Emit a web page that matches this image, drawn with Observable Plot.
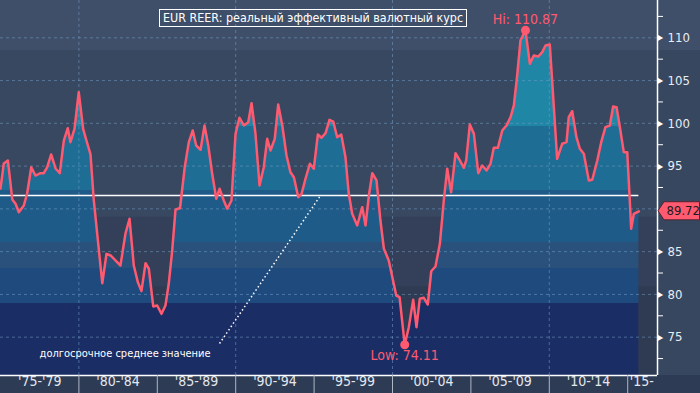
<!DOCTYPE html>
<html><head><meta charset="utf-8">
<script src="https://cdn.jsdelivr.net/npm/d3@7"></script>
<script src="https://cdn.jsdelivr.net/npm/@observablehq/plot@0.6"></script>
<style>
html,body{margin:0;padding:0;background:#384760;}
#wrap{position:relative;width:700px;height:393px;overflow:hidden;
  background:linear-gradient(to bottom,#404f69 0px,#404f69 50px,#384760 50px,#384760 375px,#2e3b54 375px,#2e3b54 393px);}
#wrap svg{position:absolute;left:0;top:0;background:transparent;}
#title{position:absolute;left:159px;top:9px;height:16px;line-height:16px;border:1px solid #fff;color:#fff;
  font-family:"DejaVu Sans Condensed","Liberation Sans Narrow","DejaVu Sans",sans-serif;font-stretch:condensed;font-size:12.4px;padding:0 3px;white-space:nowrap;}
</style></head><body>
<div id="wrap"></div>
<script>
// ---- data ----
const years = [1975.00,1975.21,1975.47,1975.75,1975.96,1976.17,1976.49,1976.70,1976.96,1977.23,1977.55,1977.76,1977.98,1978.23,1978.51,1978.78,1979.04,1979.29,1979.46,1979.72,1979.99,1980.27,1980.48,1980.74,1980.95,1981.49,1981.76,1982.02,1982.33,1982.65,1982.97,1983.23,1983.50,1983.76,1983.99,1984.25,1984.46,1984.74,1984.99,1985.27,1985.52,1985.73,1985.95,1986.16,1986.45,1986.75,1987.01,1987.26,1987.48,1987.76,1988.01,1988.25,1988.50,1988.76,1988.97,1989.24,1989.46,1989.73,1989.99,1990.24,1990.52,1990.80,1991.01,1991.26,1991.52,1991.79,1992.01,1992.22,1992.49,1992.71,1992.97,1993.24,1993.49,1993.71,1993.99,1994.20,1994.45,1994.73,1994.98,1995.24,1995.47,1995.73,1995.98,1996.22,1996.47,1996.73,1997.00,1997.21,1997.43,1997.75,1998.07,1998.28,1998.49,1998.71,1998.98,1999.23,1999.45,1999.76,2000.24,2000.45,2000.78,2001.04,2001.32,2001.53,2001.74,2002.00,2002.25,2002.47,2002.74,2003.02,2003.27,2003.49,2003.74,2004.02,2004.29,2004.55,2004.70,2004.93,2005.19,2005.47,2005.72,2006.00,2006.25,2006.46,2006.72,2007.00,2007.27,2007.53,2007.74,2007.95,2008.16,2008.48,2008.76,2009.01,2009.29,2009.55,2009.76,2010.03,2010.18,2010.33,2010.50,2010.82,2011.10,2011.24,2011.46,2011.73,2011.95,2012.20,2012.52,2012.74,2013.06,2013.31,2013.58,2013.86,2014.07,2014.29,2014.50,2014.75,2014.97,2015.13,2015.22,2015.39,2015.71];
const values = [92.38,95.31,95.66,91.10,90.60,89.61,90.40,91.80,94.87,93.90,94.17,94.17,94.87,96.36,94.72,94.17,97.99,99.43,97.80,99.36,103.64,99.36,97.99,96.36,90.98,81.31,84.75,84.55,83.97,83.38,87.12,88.84,83.38,81.43,80.38,83.65,83.00,78.59,78.70,77.73,78.70,81.24,85.13,89.90,90.10,94.87,97.80,99.16,97.41,96.91,99.75,97.41,94.10,91.18,92.35,90.98,90.01,90.98,98.78,100.65,99.75,100.13,102.35,98.78,92.73,94.87,98.19,96.82,98.19,102.20,99.75,96.24,94.29,93.70,91.37,91.76,93.52,95.27,94.69,98.70,98.31,98.85,100.41,100.21,98.38,98.70,96.04,91.76,89.42,88.06,90.20,88.06,91.50,94.17,93.32,88.64,85.33,83.97,79.87,79.67,74.11,76.17,79.37,76.17,79.49,79.60,78.82,82.71,83.26,85.92,90.98,94.69,91.95,96.51,95.66,94.80,95.66,99.86,98.78,94.17,95.07,94.49,95.27,97.14,97.14,99.16,99.75,100.72,102.09,105.59,109.68,110.87,106.96,107.93,107.81,108.32,109.10,109.22,105.01,100.72,95.85,97.61,97.80,100.72,101.42,98.38,97.02,96.44,93.32,93.40,95.66,97.80,99.55,99.75,101.97,101.89,99.55,96.63,96.63,91.06,87.67,89.42,89.72];
const longTermAverage = 91.56;
const titleText = "EUR REER: реальный эффективный валютный курс";
const avgLabel = "долгосрочное среднее значение";
const periodStarts = [1975,1980,1985,1990,1995,2000,2005,2010];
const periodLabels = ["'75-'79","'80-'84","'85-'89","'90-'94","'95-'99","'00-'04","'05-'09","'10-'14"];
const lastPeriodStart = 2015, lastPeriodLabel = "'15-";
const periodEdges = [1980,1985,1990,1995,2000,2005,2010,2015];
const decadeGrid = [1980,1990,2000,2010];
const majorTicks = [75,80,85,90,95,100,105,110];
const minorTicks = [72.5,77.5,82.5,87.5,92.5,97.5,102.5,107.5,112.5];
const areaBandEdges = [99.6,92.2,86.1,83.0,78.9];       // value boundaries of the area shading
const backBandEdges = [108.5,89.0,80.9];                // value boundaries of the background shading
const annotationFrom = {t:1988.97, v:74.26}, annotationTo = {t:1995.41, v:91.56};
const annotationTextPos = {t:1977.49, v:73.1};

// ---- styles ----
const X0 = 1975, X1 = 2016.9, Y0 = 70.52, Y1 = 114.36;
const areaColors = ["#1f86a6","#1e6d95","#1f5b89","#29517b","#1f4a7e","#1b2d65"];
const backColors = ["#404f69","#394861","#343f59","#2f3a53"];
const pink = "#ff5a70";
const condensed = '"DejaVu Sans Condensed","Liberation Sans Narrow","DejaVu Sans",sans-serif';

const data = years.map((t,i)=>({t, v: values[i]}));
const hi = d3.greatest(data, d=>d.v), lo = d3.least(data, d=>d.v);
const last = data[data.length-1];
// the last-value tag hides the tick label it covers
const labelledTicks = majorTicks.filter(v => Math.abs(v - last.v) > 2);

const aEdges = [Y1, ...areaBandEdges, Y0];
const areaBands = areaColors.map((c,i)=>({hi:aEdges[i], lo:aEdges[i+1], color:c}));
const bEdges = [Y1, ...backBandEdges, Y0];
const backBands = backColors.map((c,i)=>({hi:bEdges[i], lo:bEdges[i+1], color:c}));

function yScaleOf(scales, dims) {
  return (scales && scales.y) ? scales.y : d3.scaleLinear([Y0,Y1],[dims.height - dims.marginBottom, dims.marginTop]);
}

const gradMark = (index, scales, vals, dims) => {
  const H = dims.height;
  const y = yScaleOf(scales, dims);
  const defs = d3.create("svg:defs");
  const g = defs.append("linearGradient").attr("id","areaGrad").attr("gradientUnits","userSpaceOnUse")
    .attr("x1",0).attr("y1",0).attr("x2",0).attr("y2",H);
  areaBands.forEach(b=>{
    g.append("stop").attr("offset", Math.max(0,Math.min(1,y(b.hi)/H))).attr("stop-color", b.color);
    g.append("stop").attr("offset", Math.max(0,Math.min(1,y(b.lo)/H))).attr("stop-color", b.color);
  });
  return defs.node();
};

// pointed tag behind the last value, placed with the y scale
const tagMark = (index, scales, vals, dims) => {
  const y = yScaleOf(scales, dims);
  const cy = y(last.v), xr = dims.width - dims.marginRight;
  const path = d3.path();
  path.moveTo(xr + 1, cy); path.lineTo(xr + 7, cy - 9); path.lineTo(dims.width - 0.5, cy - 9);
  path.lineTo(dims.width - 0.5, cy + 9); path.lineTo(xr + 7, cy + 9); path.closePath();
  const g = d3.create("svg:g");
  g.append("path").attr("d", path.toString()).attr("fill", pink).attr("stroke", "#4a1822").attr("stroke-width", 0.8);
  return g.node();
};

const chart = Plot.plot({
  width: 700, height: 393,
  marginLeft: 0, marginRight: 43, marginTop: 0, marginBottom: 18,
  x: {domain:[X0,X1], axis:null},
  y: {domain:[Y0,Y1], label:null},
  style: {background:"transparent", fontFamily: condensed, fontSize:"13px", overflow:"visible"},
  marks: [
    ...backBands.map(b => Plot.rect([b], {y1:"lo", y2:"hi", fill:b.color})),
    gradMark,
    Plot.areaY(data, {x:"t", y1:Y0, y2:"v", fill:"url(#areaGrad)"}),
    Plot.ruleY(majorTicks, {stroke:"#6f9cc4", strokeOpacity:0.55, strokeDasharray:"3,3"}),
    Plot.ruleX(decadeGrid, {stroke:"#6f9cc4", strokeOpacity:0.55, strokeDasharray:"3,3"}),
    Plot.ruleY([longTermAverage], {x1:years[0], x2:years[years.length-1], stroke:"white", strokeWidth:1.5}),
    Plot.link([{a:annotationFrom, b:annotationTo}], {x1:d=>d.a.t, y1:d=>d.a.v, x2:d=>d.b.t, y2:d=>d.b.v, stroke:"white", strokeWidth:1.5, strokeDasharray:"1.5,2.5"}),
    Plot.text([avgLabel], {x:annotationTextPos.t, y:annotationTextPos.v, text:d=>d, textAnchor:"start", fill:"white", fontSize:11}),
    Plot.line(data, {x:"t", y:"v", stroke:pink, strokeWidth:2.5, strokeLinejoin:"round"}),
    Plot.dot([hi, lo], {x:"t", y:"v", r:4.5, fill:pink}),
    Plot.text([hi], {x:"t", y:"v", text:d=>"Hi: "+d.v.toFixed(2), dy:-11, fill:pink, fontSize:14}),
    Plot.text([lo], {x:"t", y:"v", text:d=>"Low: "+d.v.toFixed(2), dy:11, fill:pink, fontSize:14}),
    Plot.ruleY([Y0], {stroke:"white", strokeWidth:1.5}),
    Plot.ruleX([X1], {stroke:"white", strokeWidth:1.5}),
    Plot.axisY(minorTicks, {anchor:"right", tickSize:5, tickFormat:()=>"", stroke:"white", label:null}),
    Plot.axisY(labelledTicks, {anchor:"right", tickSize:0, tickPadding:10, color:"#e8edf3", fontSize:13, label:null}),
    Plot.text(labelledTicks, {y:d=>d, text:()=>"\u25B6", frameAnchor:"right", textAnchor:"start", dx:0, fontSize:8, fill:"white"}),
    Plot.axisX(periodEdges, {anchor:"bottom", tickSize:18, tickFormat:()=>"", stroke:"#aeb7c4", label:null}),
    Plot.text(periodStarts, {x:d=>d+2.5, text:(d,i)=>periodLabels[i], frameAnchor:"bottom", dy:10, fill:"#e3e8ef", fontSize:14}),
    Plot.text([lastPeriodStart], {x:d=>d, text:()=>lastPeriodLabel, frameAnchor:"bottom", dy:10, dx:2, textAnchor:"start", fill:"#e3e8ef", fontSize:14}),
    tagMark,
    Plot.text([last], {y:"v", text:d=>d.v.toFixed(2), frameAnchor:"right", textAnchor:"start", dx:9, fill:"#1a1a1a", fontSize:13})
  ]
});
const wrap = document.getElementById("wrap");
wrap.appendChild(chart);
const title = document.createElement("div");
title.id = "title"; title.textContent = titleText;
wrap.appendChild(title);
</script>
</body></html>
